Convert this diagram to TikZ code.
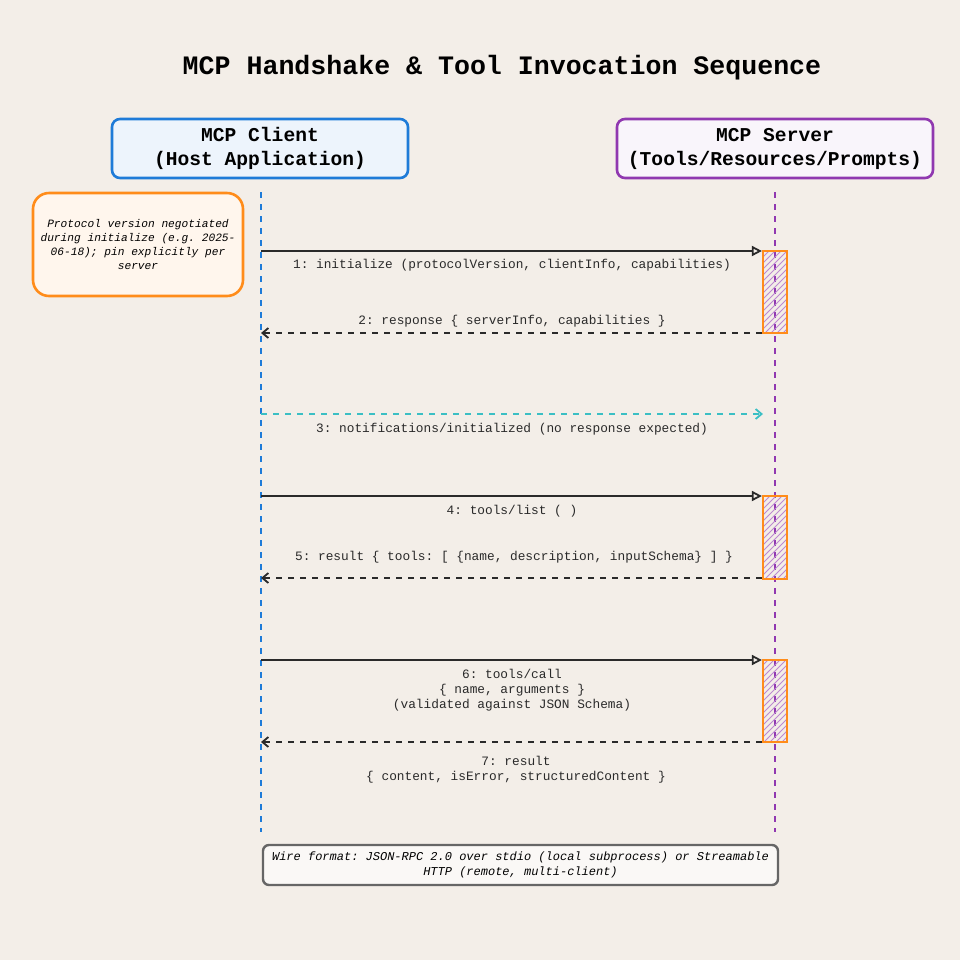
\documentclass[tikz,border=0pt]{standalone}
\usepackage{fontspec}
\setmonofont{Liberation Mono}
\usetikzlibrary{arrows.meta,patterns}
\definecolor{bg}{HTML}{F3EEE8}
\definecolor{cblue}{HTML}{1E7BD8}
\definecolor{spurp}{HTML}{9038B0}
\definecolor{orng}{HTML}{FF8C1A}
\definecolor{teal}{HTML}{3BBFC4}
\definecolor{dk}{HTML}{2A2A2A}
\begin{document}
\begin{tikzpicture}[x=0.5pt,y=-0.5pt,font=\ttfamily,
 hdr/.style={draw,line width=1.3pt,rounded corners=4pt,minimum width=148pt,minimum height=29.5pt,align=center,font=\ttfamily\bfseries\fontsize{9.8}{12}\selectfont},
 lbl/.style={font=\ttfamily\fontsize{6.4}{7.6}\selectfont,align=center,text=dk},
 act/.style={draw=orng,line width=1.1pt,fill=white,pattern=north east lines,pattern color=spurp!60,minimum width=12pt,inner sep=0pt},
 call/.style={dk,line width=0.9pt,-{Triangle[open,length=5pt,width=5pt]}},
 ret/.style={dk,line width=0.9pt,dashed,-{Straight Barb[length=3pt,width=5pt]}}]
\fill[bg] (0,0) rectangle (960,960);
\node[font=\ttfamily\bfseries\fontsize{13.3}{16}\selectfont] (t) at (502,68) {MCP Handshake \& Tool Invocation Sequence};
\node[hdr,draw=cblue,fill=white!92!cblue] (c) at (260,148.5) {MCP Client\\(Host Application)};
\node[hdr,draw=spurp,fill=white!95!spurp,minimum width=158pt] (s) at (775,148.5) {MCP Server\\(Tools/Resources/Prompts)};
\coordinate (cb) at (261,832); \coordinate (sb) at (775,832);
\coordinate (ct) at (261,192); \coordinate (st) at (775,192);
\draw[cblue,line width=0.9pt,dashed] (ct) -- (cb);
\draw[spurp,line width=1.1pt,dashed] (st) -- (sb);
\node[draw=orng,line width=1.3pt,rounded corners=8pt,fill=orng!8,minimum width=105pt,minimum height=51.5pt,align=center,font=\ttfamily\itshape\fontsize{5.6}{7}\selectfont] (n) at (138,244.5) {Protocol version negotiated\\during initialize (e.g. 2025-\\06-18); pin explicitly per\\server};
\node[act,minimum height=41pt] (a1) at (775,292) {};
\node[act,minimum height=41.5pt] (a2) at (775,537.5) {};
\node[act,minimum height=41pt] (a3) at (775,701) {};
\coordinate (c1) at (261,251); \coordinate (c2) at (261,333); \coordinate (c3) at (261,414);
\coordinate (c4) at (261,496); \coordinate (c5) at (261,578); \coordinate (c6) at (261,660); \coordinate (c7) at (261,742);
\coordinate (s3) at (763,414);
\draw[call] (c1) -- (c1 -| a1.west);
\node[lbl] at (512,265) {1: initialize (protocolVersion, clientInfo, capabilities)};
\draw[ret] (c2 -| a1.west) -- (c2);
\node[lbl] at (512,321) {2: response \{ serverInfo, capabilities \}};
\draw[teal,line width=0.9pt,dashed,-{Straight Barb[length=3pt,width=5pt]}] (c3) -- (s3);
\node[lbl] at (512,429) {3: notifications/initialized (no response expected)};
\draw[call] (c4) -- (c4 -| a2.west);
\node[lbl] at (512,511) {4: tools/list ( )};
\draw[ret] (c5 -| a2.west) -- (c5);
\node[lbl] at (514,557) {5: result \{ tools: [ \{name, description, inputSchema\} ] \}};
\draw[call] (c6) -- (c6 -| a3.west);
\node[lbl] at (512,690) {6: tools/call\\\{ name, arguments \}\\(validated against JSON Schema)};
\draw[ret] (c7 -| a3.west) -- (c7);
\node[lbl] at (516,769.5) {7: result\\\{ content, isError, structuredContent \}};
\node[draw=gray!80!black,line width=1.2pt,rounded corners=3pt,fill=white!60!bg,minimum width=257.5pt,minimum height=20pt,align=center,font=\ttfamily\itshape\fontsize{6}{7.4}\selectfont] (w) at (520.5,865) {Wire format: JSON-RPC 2.0 over stdio (local subprocess) or Streamable\\HTTP (remote, multi-client)};
\end{tikzpicture}
\end{document}
